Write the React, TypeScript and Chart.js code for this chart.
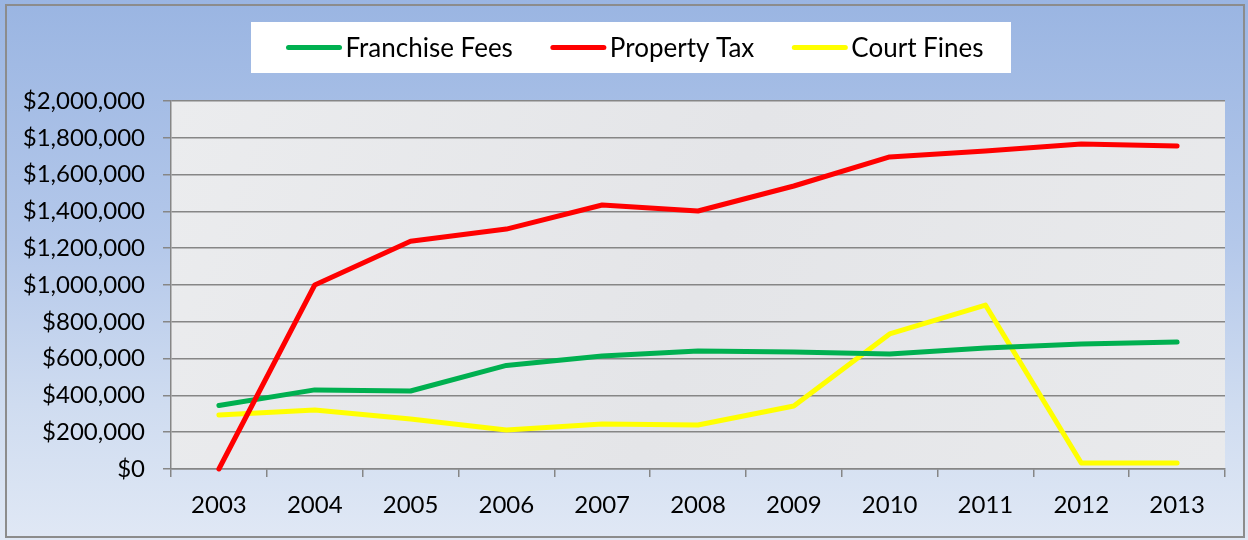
import React, { useEffect, useRef } from "react";
import { Chart, registerables } from "chart.js";

Chart.register(...registerables);

const years = ["2003", "2004", "2005", "2006", "2007", "2008", "2009", "2010", "2011", "2012", "2013"];
const franchiseFees = [345000, 430000, 424000, 563000, 614000, 641000, 636000, 625000, 658000, 679000, 690000];
const propertyTax = [0, 1000000, 1238000, 1304000, 1435000, 1402000, 1538000, 1696000, 1728000, 1766000, 1755000];
const courtFines = [293000, 321000, 272000, 212000, 245000, 239000, 342000, 734000, 891000, 33000, 33000];
const seriesNames = ["Franchise Fees", "Property Tax", "Court Fines"];
const seriesColors = ["#00b050", "#ff0000", "#ffff00"];
const yTickMax = 2000000;
const yTickStep = 200000;

const FONT = "Lato, 'Open Sans', sans-serif";

const framePlugin = {
  id: "frame",
  beforeDraw(chart: any) {
    const { ctx, width, height, chartArea } = chart;
    ctx.save();
    const g = ctx.createLinearGradient(0, 0, 0, height);
    g.addColorStop(0, "#9ab5e2");
    g.addColorStop(0.45, "#b4c8ea");
    g.addColorStop(0.75, "#cfdcf0");
    g.addColorStop(1, "#e0e8f5");
    ctx.fillStyle = g;
    ctx.fillRect(0, 0, width, height);
    ctx.strokeStyle = "#8c8c8c";
    ctx.lineWidth = 2;
    ctx.strokeRect(6, 5, 1238, 532);
    const pg = ctx.createLinearGradient(chartArea.left, chartArea.top, chartArea.right, chartArea.bottom);
    pg.addColorStop(0, "#ebecee");
    pg.addColorStop(0.5, "#e4e5e8");
    pg.addColorStop(1, "#e9eaec");
    ctx.fillStyle = pg;
    ctx.fillRect(chartArea.left, chartArea.top, chartArea.right - chartArea.left, chartArea.bottom - chartArea.top);
    ctx.restore();
  },
  afterDraw(chart: any) {
    const { ctx } = chart;
    ctx.save();
    const boxL = 251, boxT = 22, boxR = 1011, boxB = 73;
    ctx.fillStyle = "#ffffff";
    ctx.fillRect(boxL, boxT, boxR - boxL, boxB - boxT);
    ctx.font = `26px ${FONT}`;
    ctx.textBaseline = "middle";
    const lineLen = 55, gap = 4, spacing = 38;
    const widths = seriesNames.map((n) => ctx.measureText(n).width);
    const total = widths.reduce((a, w) => a + lineLen + gap + w, 0) + spacing * (seriesNames.length - 1);
    let x = 635 - total / 2;
    const cy = (boxT + boxB) / 2;
    seriesNames.forEach((n, i) => {
      ctx.strokeStyle = seriesColors[i];
      ctx.lineWidth = 5;
      ctx.lineCap = "round";
      ctx.beginPath();
      ctx.moveTo(x + 2, cy);
      ctx.lineTo(x + lineLen - 2, cy);
      ctx.stroke();
      ctx.fillStyle = "#000000";
      ctx.fillText(n, x + lineLen + gap, cy + 1);
      x += lineLen + gap + widths[i] + spacing;
    });
    ctx.restore();
  },
};

export default function App() {
  const ref = useRef<HTMLCanvasElement>(null);
  useEffect(() => {
    document.body.style.margin = "0";
    const canvas = ref.current!;
    const chart = new Chart(canvas, {
      type: "line",
      data: {
        labels: years,
        datasets: [
          { label: seriesNames[0], data: franchiseFees, borderColor: seriesColors[0], backgroundColor: seriesColors[0], order: 1 },
          { label: seriesNames[1], data: propertyTax, borderColor: seriesColors[1], backgroundColor: seriesColors[1], order: 0 },
          { label: seriesNames[2], data: courtFines, borderColor: seriesColors[2], backgroundColor: seriesColors[2], order: 2 },
        ].map((d) => ({
          ...d,
          borderWidth: 5,
          pointRadius: 0,
          tension: 0,
          borderCapStyle: "round" as const,
          borderJoinStyle: "round" as const,
          fill: false,
          clip: 4,
        })),
      },
      options: {
        responsive: false,
        animation: false,
        layout: { padding: { left: 0, right: 23, top: 101, bottom: 0 } },
        plugins: { legend: { display: false }, tooltip: { enabled: false } },
        scales: {
          x: {
            offset: true,
            grid: {
              display: true,
              drawOnChartArea: false,
              drawTicks: true,
              tickLength: 8,
              offset: true,
              color: "#868686",
              lineWidth: 1.5,
            },
            border: { display: true, color: "#868686", width: 1.5 },
            ticks: { color: "#000", font: { family: FONT, size: 24 }, padding: 14, maxRotation: 0 },
            afterFit: (s: any) => { s.height = 71; },
          },
          y: {
            min: 0,
            max: yTickMax,
            grid: { color: "#868686", lineWidth: 1.5, tickLength: 8 },
            border: { display: true, color: "#868686", width: 1.5 },
            ticks: {
              stepSize: yTickStep,
              color: "#000",
              font: { family: FONT, size: 24 },
              padding: 18,
              callback: (v: any) => "$" + Number(v).toLocaleString("en-US"),
            },
            afterFit: (s: any) => { s.width = 171; },
          },
        },
      },
      plugins: [framePlugin],
    });
    return () => chart.destroy();
  }, []);
  return <canvas ref={ref} width={1248} height={540} style={{ display: "block" }} />;
}
